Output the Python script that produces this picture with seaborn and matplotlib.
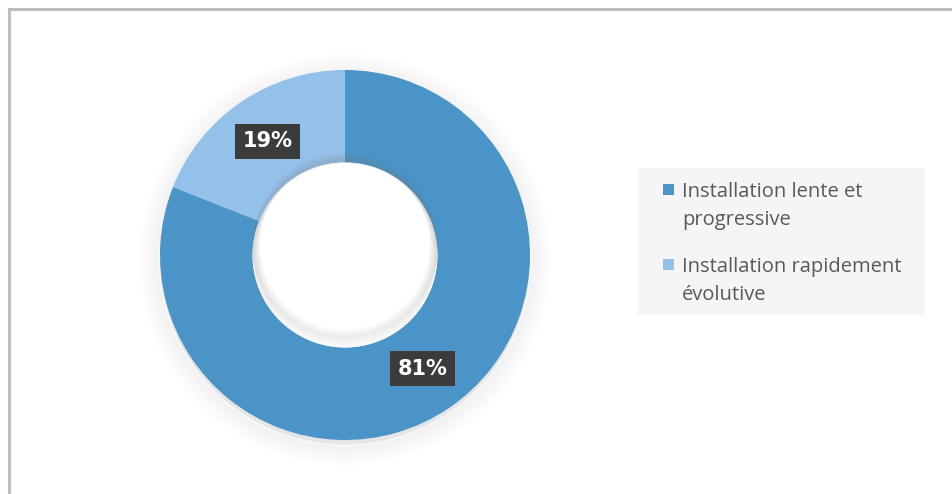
import matplotlib
matplotlib.use("Agg")
import matplotlib.pyplot as plt
from matplotlib.patches import Rectangle, Circle, Wedge
import numpy as np
import seaborn as sns

categories = ["Installation lente et\nprogressive", "Installation rapidement\névolutive"]
shares = [81, 19]
slice_colors = ["#4A94C8", "#93C1E9"]

sns.set_theme(style="white")
plt.rcParams["font.family"] = ["Open Sans", "DejaVu Sans"]

W, H = 953, 494
fig = plt.figure(figsize=(W / 100, H / 100), dpi=100)
fig.patch.set_facecolor("white")


def fx(px):
    return px / W


def fy(py):
    return 1 - py / H


# outer frame (top and left edges visible)
fig.patches.append(Rectangle((fx(9.5), -0.1), 1.2, 1.1 - 9 / H, transform=fig.transFigure,
                             fill=False, edgecolor="#bdbdbd", linewidth=2.2, zorder=0))

R_PX = 185
cx, cy = 345, 255
half = 1.2 * R_PX
ax = fig.add_axes([(cx - half) / W, (H - cy - half) / H, 2 * half / W, 2 * half / H])

wedges, _ = ax.pie(shares, colors=slice_colors, startangle=90, counterclock=False,
                   radius=1.0, wedgeprops=dict(width=0.5, edgecolor="none"))
for w in wedges:
    w.set_zorder(2)

ax.set_xlim(-1.2, 1.2)
ax.set_ylim(-1.2, 1.2)
ax.set_aspect("equal")
ax.axis("off")

# soft drop shadow around the ring
for i in range(18):
    r = 1.0 + 0.006 * (i + 1)
    ax.add_patch(Circle((0.0, -0.025), r, facecolor="none", edgecolor="#808080",
                        linewidth=2.0, alpha=0.04 * (18 - i) / 18, zorder=1))
ax.add_patch(Circle((0.0, -0.025), 1.0, facecolor="#9a9a9a", alpha=0.25, zorder=1))

# inner shadow at the top of the hole
ax.add_patch(Circle((0, 0), 0.5, facecolor="white", edgecolor="none", zorder=3))
for i in range(10):
    ax.add_patch(Wedge((0, 0.006 * i), 0.5, 0, 360, width=0.004 * (i + 1) + 0.002,
                       facecolor="#7a7a7a", edgecolor="none",
                       alpha=0.03, zorder=4))

# value labels
total = sum(shares)
start = 90.0
for val in shares:
    sweep = 360.0 * val / total
    mid = np.deg2rad(start - sweep / 2)
    x, y = 0.745 * np.cos(mid), 0.745 * np.sin(mid)
    ax.text(x, y, f"{val}%", ha="center", va="center", color="white",
            fontsize=15, fontweight="bold", family=["DejaVu Sans"], zorder=6,
            bbox=dict(boxstyle="square,pad=0.36", facecolor="#3b3b3b", edgecolor="none"))
    start -= sweep

# legend panel
fig.patches.append(Rectangle((fx(638), fy(315)), fx(925) - fx(638), fy(168) - fy(315),
                             transform=fig.transFigure, facecolor="#f5f5f5",
                             edgecolor="none", zorder=1))
entry_top = [197, 272]
for label, color, base in zip(categories, slice_colors, entry_top):
    fig.patches.append(Rectangle((fx(663), fy(base - 2)), fx(674) - fx(663), fy(base - 13) - fy(base - 2),
                                 transform=fig.transFigure, facecolor=color,
                                 edgecolor="none", zorder=2))
    for k, line in enumerate(label.split("\n")):
        fig.text(fx(682), fy(base + 28 * k), line, ha="left", va="baseline",
                 fontsize=14.5, color="#595959", zorder=3)

fig.savefig("out.png", dpi=100, facecolor="white")
